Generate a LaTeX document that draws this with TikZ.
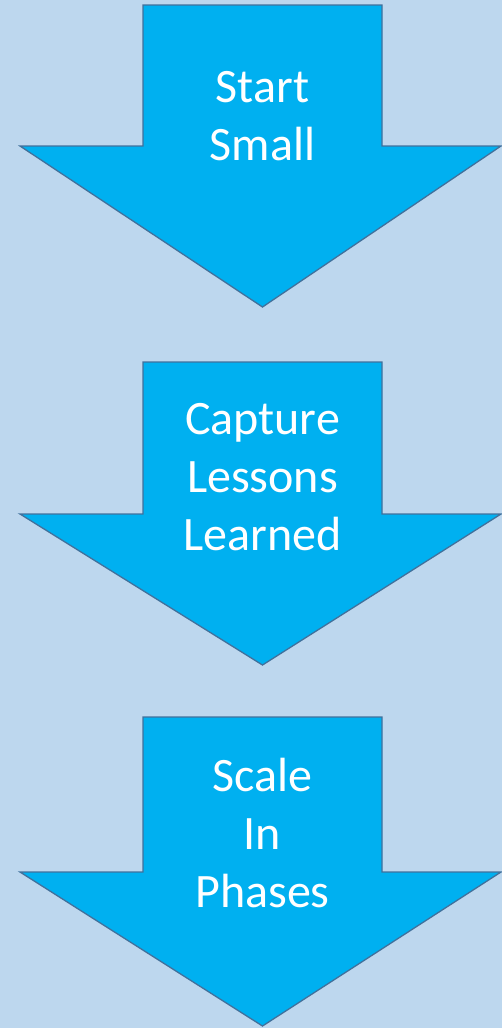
\documentclass[tikz,border=0pt]{standalone}
\usepackage{fontspec}
\setmainfont{Carlito}
\definecolor{bgblue}{RGB}{189,215,238}
\definecolor{arrowfill}{RGB}{0,176,240}
\definecolor{arrowline}{RGB}{65,113,156}
\tikzset{
  downarrow/.style={draw=arrowline,line width=1.3pt,fill=arrowfill,line join=miter},
  steplabel/.style={anchor=base,inner sep=0pt,align=center,text=white,font=\fontsize{48}{58}\selectfont}
}
\begin{document}
\begin{tikzpicture}[x=1pt,y=1pt,yscale=-1,xscale=1]
	%Background
	\fill [bgblue] (0,0) rectangle (502,1028);
	\useasboundingbox (0,0) rectangle (502,1028);
	
	%Shape: Down Arrow [id:startsmall]
	\draw [downarrow] (143,5) -- (382,5) -- (382,146) -- (501,146) -- (262.5,307) -- (20,146) -- (143,146) -- cycle ;
	%Shape: Down Arrow [id:capturelessons]
	\draw [downarrow] (143,362) -- (382,362) -- (382,514) -- (501,514) -- (262.5,665) -- (20,514) -- (143,514) -- cycle ;
	%Shape: Down Arrow [id:scalephases]
	\draw [downarrow] (143,717) -- (382,717) -- (382,872) -- (501,872) -- (262.5,1026) -- (20,872) -- (143,872) -- cycle ;
	
	% Text Node (base = last line)
	\node (start) [steplabel] at (262.5,160) {Start\\Small};
	% Text Node
	\node (capture) [steplabel] at (262.5,550) {Capture\\Lessons\\Learned};
	% Text Node
	\node (scale) [steplabel] at (262.5,907) {Scale\\In\\Phases};
	
\end{tikzpicture}
\end{document}
